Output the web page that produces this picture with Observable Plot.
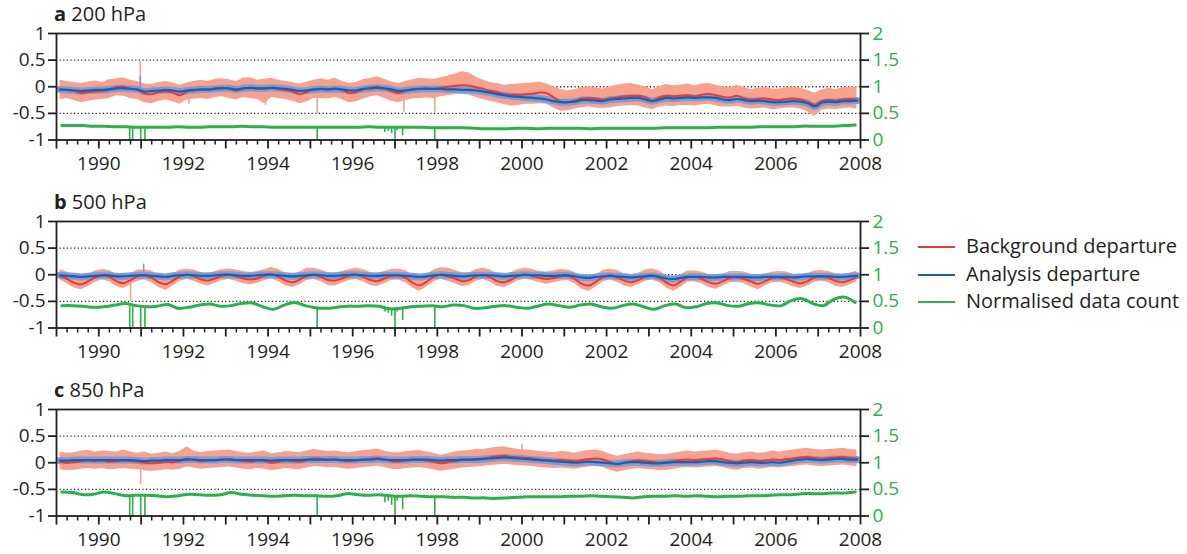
<!DOCTYPE html>
<html><head><meta charset="utf-8">
<script src="https://cdn.jsdelivr.net/npm/d3@7"></script>
<script src="https://cdn.jsdelivr.net/npm/@observablehq/plot@0.6"></script>
<style>
body{margin:0;background:#fff;font-family:"Open Sans",sans-serif;color:#231f20;}
#root{position:relative;width:1187px;height:554px;overflow:hidden;}
.panel{position:absolute;left:0;}
.title{position:absolute;left:54px;font-size:20px;line-height:20px;white-space:nowrap;}
.title b{font-weight:700;}
.leg{position:absolute;left:918px;font-size:20px;line-height:20px;white-space:nowrap;}
.leg span.sw{position:absolute;left:0;top:9px;width:37px;height:0;border-top:2px solid;}
.leg span.tx{position:absolute;left:48px;top:-1px;}
</style></head>
<body><div id="root"></div>
<script>
// ---------- labels ----------
const panelLetters = ["a", "b", "c"];
const panelLevels = ["200 hPa", "500 hPa", "850 hPa"];
const seriesNames = ["Background departure", "Analysis departure", "Normalised data count"];
const leftTicks = [-1, -0.5, 0, 0.5, 1];
const rightTickLabels = ["0", "0.5", "1", "1.5", "2"];
const yearTicks = d3.range(1989, 2009);
const startYear = 1989;

// ---------- panel a: 200 hPa (bimonthly values, 6 per year 1989-2007) ----------
const bgA = [
-0.06,-0.06,-0.08,-0.12,-0.10,-0.09, -0.08,-0.05,-0.01,0.00,-0.04,-0.06, -0.13,-0.14,-0.10,-0.09,-0.11,-0.16,
-0.09,-0.07,-0.05,-0.06,-0.03,-0.02, -0.04,-0.07,-0.03,-0.02,-0.04,-0.03, -0.02,-0.04,-0.06,-0.09,-0.14,-0.10,
-0.05,-0.04,-0.05,-0.03,-0.06,-0.12, -0.10,-0.05,-0.02,0.00,-0.03,-0.08, -0.12,-0.08,-0.05,-0.04,-0.03,-0.04,
-0.02,0.00,0.02,0.03,0.02,-0.01, -0.04,-0.08,-0.10,-0.14,-0.15,-0.15, -0.14,-0.13,-0.11,-0.12,-0.20,-0.28,
-0.29,-0.26,-0.22,-0.21,-0.22,-0.24, -0.22,-0.20,-0.18,-0.17,-0.17,-0.20, -0.26,-0.20,-0.17,-0.18,-0.17,-0.16,
-0.18,-0.15,-0.13,-0.16,-0.19,-0.20, -0.17,-0.22,-0.24,-0.23,-0.22,-0.24, -0.25,-0.23,-0.22,-0.24,-0.28,-0.34,
-0.27,-0.25,-0.26,-0.24,-0.23,-0.25];
const anA = [
-0.05,-0.06,-0.07,-0.08,-0.07,-0.06, -0.06,-0.05,-0.03,-0.03,-0.04,-0.05, -0.09,-0.08,-0.07,-0.06,-0.07,-0.09,
-0.07,-0.06,-0.05,-0.05,-0.04,-0.03, -0.03,-0.05,-0.03,-0.02,-0.03,-0.03, -0.02,-0.03,-0.04,-0.06,-0.08,-0.07,
-0.05,-0.04,-0.05,-0.04,-0.05,-0.07, -0.07,-0.04,-0.03,-0.02,-0.03,-0.05, -0.08,-0.07,-0.05,-0.04,-0.04,-0.04,
-0.04,-0.05,-0.05,-0.06,-0.06,-0.07, -0.09,-0.11,-0.14,-0.16,-0.18,-0.19, -0.20,-0.21,-0.22,-0.24,-0.27,-0.29,
-0.29,-0.28,-0.25,-0.25,-0.26,-0.27, -0.24,-0.23,-0.22,-0.21,-0.21,-0.24, -0.27,-0.24,-0.21,-0.22,-0.21,-0.20,
-0.21,-0.20,-0.20,-0.21,-0.24,-0.25, -0.23,-0.25,-0.27,-0.26,-0.27,-0.29, -0.29,-0.28,-0.27,-0.28,-0.31,-0.37,
-0.30,-0.28,-0.29,-0.27,-0.27,-0.26];
const bgHiA = [
0.12,0.10,0.08,0.06,0.09,0.11, 0.08,0.13,0.15,0.17,0.12,0.10, 0.05,0.04,0.08,0.10,0.07,0.03,
0.07,0.10,0.12,0.10,0.14,0.15, 0.13,0.10,0.16,0.17,0.12,0.14, 0.16,0.12,0.10,0.08,0.05,0.09,
0.12,0.15,0.12,0.16,0.10,0.06, 0.08,0.13,0.16,0.19,0.14,0.09, 0.06,0.10,0.13,0.16,0.15,0.14,
0.17,0.20,0.24,0.28,0.26,0.18, 0.12,0.08,0.06,0.03,0.04,0.05, 0.06,0.07,0.09,0.05,0.00,-0.05,
-0.08,-0.05,-0.02,0.00,-0.02,-0.04, 0.00,0.03,0.05,0.06,0.03,0.00, -0.06,0.01,0.04,0.02,0.03,0.05,
0.02,0.05,0.06,0.03,0.00,-0.02, 0.03,-0.02,-0.05,-0.03,-0.01,-0.04, -0.04,-0.02,0.00,-0.03,-0.07,-0.12,
-0.06,-0.03,-0.05,-0.02,-0.01,0.00];
const bgLoA = [
-0.24,-0.22,-0.26,-0.30,-0.27,-0.25, -0.24,-0.22,-0.17,-0.18,-0.22,-0.24, -0.30,-0.32,-0.27,-0.25,-0.28,-0.33,
-0.25,-0.23,-0.22,-0.24,-0.20,-0.19, -0.22,-0.25,-0.20,-0.22,-0.24,-0.32, -0.20,-0.22,-0.24,-0.27,-0.32,-0.28,
-0.22,-0.22,-0.23,-0.20,-0.24,-0.30, -0.28,-0.23,-0.19,-0.17,-0.22,-0.27, -0.30,-0.26,-0.23,-0.22,-0.21,-0.22,
-0.19,-0.17,-0.15,-0.14,-0.16,-0.20, -0.24,-0.27,-0.30,-0.34,-0.36,-0.35, -0.33,-0.33,-0.32,-0.33,-0.40,-0.46,
-0.45,-0.42,-0.39,-0.38,-0.40,-0.41, -0.40,-0.37,-0.36,-0.35,-0.36,-0.40, -0.43,-0.38,-0.36,-0.37,-0.35,-0.35,
-0.36,-0.34,-0.33,-0.36,-0.38,-0.38, -0.37,-0.40,-0.42,-0.41,-0.40,-0.43, -0.42,-0.40,-0.40,-0.42,-0.47,-0.56,
-0.44,-0.42,-0.43,-0.41,-0.40,-0.42];
// normalised data count, quarterly (4 per year)
const cntA = [
0.27,0.27,0.27,0.26, 0.26,0.25,0.25,0.24, 0.24,0.24,0.24,0.25, 0.24,0.24,0.25,0.25, 0.25,0.26,0.25,0.25,
0.24,0.24,0.24,0.24, 0.24,0.24,0.24,0.24, 0.24,0.25,0.24,0.24, 0.24,0.24,0.24,0.23, 0.23,0.23,0.23,0.22,
0.21,0.21,0.21,0.22, 0.22,0.21,0.22,0.22, 0.22,0.22,0.21,0.22, 0.22,0.22,0.22,0.22, 0.22,0.23,0.23,0.23,
0.23,0.23,0.24,0.24, 0.24,0.24,0.25,0.25, 0.25,0.25,0.26,0.26, 0.26,0.26,0.27,0.28];
const spikeTA = [1990.98, 1992.13, 1993.94, 1995.16, 1997.21, 1997.94];
const spikeVA = [0.47, -0.33, -0.35, -0.51, -0.48, -0.48];
const anSpikeTA = [1990.98];
const anSpikeVA = [0.2];

// ---------- panel b: 500 hPa ----------
const bgB = [
-0.02,-0.08,-0.15,-0.18,-0.12,-0.05, -0.01,-0.04,-0.12,-0.16,-0.10,-0.03, -0.01,-0.06,-0.14,-0.18,-0.11,-0.03,
0.00,-0.03,-0.09,-0.11,-0.07,-0.02, 0.00,-0.03,-0.07,-0.09,-0.07,-0.02, 0.01,-0.04,-0.11,-0.14,-0.09,-0.02,
0.00,-0.04,-0.10,-0.11,-0.07,-0.02, 0.00,-0.04,-0.10,-0.12,-0.07,-0.02, -0.01,-0.06,-0.15,-0.20,-0.13,-0.04,
0.00,-0.03,-0.07,-0.12,-0.10,-0.03, 0.00,-0.05,-0.12,-0.14,-0.09,-0.02, 0.00,-0.02,-0.06,-0.08,-0.06,-0.03,
-0.02,-0.08,-0.17,-0.20,-0.13,-0.04, -0.01,-0.05,-0.11,-0.14,-0.10,-0.03, -0.01,-0.06,-0.15,-0.20,-0.13,-0.05,
-0.04,-0.08,-0.14,-0.17,-0.12,-0.06, -0.05,-0.08,-0.13,-0.17,-0.12,-0.06, -0.05,-0.08,-0.13,-0.16,-0.12,-0.05,
-0.03,-0.06,-0.12,-0.14,-0.10,-0.04];
const anB = [
-0.01,-0.02,-0.03,-0.04,-0.03,-0.02, -0.01,-0.01,-0.03,-0.03,-0.02,-0.01, -0.01,-0.02,-0.03,-0.04,-0.02,-0.01,
0.00,-0.01,-0.02,-0.02,-0.01,0.00, 0.00,-0.01,-0.02,-0.02,-0.01,0.00, 0.00,-0.01,-0.02,-0.03,-0.02,-0.01,
0.00,-0.01,-0.02,-0.02,-0.01,0.00, 0.00,-0.01,-0.02,-0.02,-0.01,-0.01, -0.01,-0.02,-0.03,-0.04,-0.03,-0.01,
0.00,-0.01,-0.02,-0.03,-0.02,-0.01, -0.01,-0.01,-0.02,-0.03,-0.02,-0.01, 0.00,-0.01,-0.01,-0.02,-0.02,-0.01,
-0.01,-0.03,-0.05,-0.06,-0.04,-0.03, -0.02,-0.03,-0.04,-0.05,-0.04,-0.03, -0.02,-0.04,-0.07,-0.08,-0.06,-0.04,
-0.04,-0.04,-0.05,-0.05,-0.04,-0.04, -0.04,-0.04,-0.05,-0.05,-0.04,-0.04, -0.04,-0.04,-0.05,-0.04,-0.03,-0.03,
-0.03,-0.03,-0.04,-0.04,-0.03,-0.02];
const bgHiB = [
0.10,0.05,-0.03,-0.06,0.00,0.07, 0.10,0.08,0.00,-0.04,0.02,0.09, 0.09,0.07,-0.01,-0.05,0.01,0.09,
0.11,0.09,0.04,0.02,0.06,0.10, 0.11,0.09,0.06,0.04,0.06,0.10, 0.14,0.10,0.03,0.00,0.05,0.12,
0.12,0.09,0.04,0.03,0.06,0.10, 0.12,0.10,0.04,0.02,0.06,0.10, 0.11,0.08,-0.01,-0.06,0.00,0.09,
0.13,0.12,0.08,0.04,0.03,0.10, 0.12,0.09,0.02,0.00,0.04,0.10, 0.12,0.10,0.06,0.05,0.07,0.10,
0.09,0.04,-0.04,-0.07,0.00,0.08, 0.11,0.08,0.02,0.00,0.03,0.09, 0.11,0.07,-0.02,-0.07,0.00,0.07,
0.07,0.05,0.00,-0.03,0.01,0.06, 0.06,0.05,0.01,-0.04,0.01,0.05, 0.06,0.05,0.01,-0.03,0.02,0.07,
0.08,0.06,0.02,0.00,0.03,0.07];
const bgLoB = [
-0.10,-0.17,-0.25,-0.28,-0.22,-0.14, -0.10,-0.13,-0.22,-0.26,-0.19,-0.12, -0.10,-0.15,-0.24,-0.29,-0.21,-0.12,
-0.09,-0.12,-0.18,-0.21,-0.16,-0.11, -0.09,-0.12,-0.17,-0.19,-0.16,-0.11, -0.08,-0.13,-0.21,-0.24,-0.19,-0.11,
-0.09,-0.13,-0.20,-0.21,-0.16,-0.11, -0.09,-0.13,-0.20,-0.22,-0.17,-0.11, -0.10,-0.15,-0.25,-0.31,-0.23,-0.13,
-0.09,-0.12,-0.17,-0.22,-0.20,-0.12, -0.09,-0.14,-0.22,-0.24,-0.18,-0.11, -0.09,-0.11,-0.15,-0.18,-0.15,-0.12,
-0.11,-0.17,-0.27,-0.31,-0.23,-0.13, -0.10,-0.14,-0.21,-0.24,-0.19,-0.12, -0.10,-0.15,-0.25,-0.31,-0.23,-0.14,
-0.13,-0.17,-0.24,-0.27,-0.21,-0.15, -0.14,-0.17,-0.23,-0.28,-0.21,-0.15, -0.14,-0.17,-0.23,-0.26,-0.21,-0.14,
-0.12,-0.15,-0.22,-0.24,-0.19,-0.13];
const cntB = [
0.42,0.42,0.41,0.39, 0.40,0.43,0.46,0.42, 0.40,0.41,0.44,0.37, 0.39,0.43,0.45,0.41, 0.42,0.46,0.47,0.40,
0.35,0.43,0.48,0.42, 0.38,0.37,0.39,0.41, 0.41,0.42,0.41,0.36, 0.37,0.40,0.41,0.42, 0.40,0.43,0.42,0.37,
0.38,0.41,0.42,0.39, 0.37,0.41,0.45,0.42, 0.39,0.43,0.45,0.40, 0.37,0.42,0.45,0.40, 0.35,0.42,0.45,0.38,
0.40,0.46,0.47,0.42, 0.41,0.46,0.47,0.43, 0.42,0.52,0.55,0.46, 0.42,0.54,0.58,0.48];
const spikeTB = [1990.75];
const spikeVB = [-0.5];
const anSpikeTB = [1991.06];
const anSpikeVB = [0.2];

// ---------- panel c: 850 hPa ----------
const bgC = [
0.02,0.00,0.01,0.03,0.04,0.03, 0.04,0.02,0.03,0.04,0.03,0.02, 0.00,-0.01,0.00,0.02,0.01,0.03,
0.08,0.05,0.03,0.04,0.05,0.06, 0.07,0.05,0.03,0.02,0.04,0.03, 0.00,0.02,0.04,0.03,0.02,0.05,
0.08,0.07,0.05,0.06,0.04,0.03, 0.04,0.06,0.07,0.09,0.06,0.03, 0.02,0.04,0.05,0.06,0.04,0.02,
-0.01,0.01,0.03,0.05,0.06,0.07, 0.08,0.10,0.12,0.13,0.11,0.10, 0.09,0.08,0.06,0.05,0.04,0.05,
0.04,0.03,0.05,0.07,0.08,0.06, 0.01,-0.03,0.00,0.03,0.04,0.03, 0.02,0.00,0.01,0.03,0.05,0.06,
0.05,0.06,0.07,0.08,0.06,0.03, 0.01,0.04,0.05,0.03,0.04,0.06, 0.05,0.07,0.08,0.10,0.11,0.09,
0.08,0.09,0.10,0.11,0.09,0.08];
const anC = [
0.04,0.04,0.05,0.05,0.05,0.05, 0.05,0.05,0.05,0.05,0.05,0.04, 0.03,0.04,0.04,0.05,0.05,0.05,
0.06,0.06,0.05,0.05,0.05,0.06, 0.06,0.05,0.05,0.05,0.05,0.05, 0.04,0.05,0.05,0.05,0.05,0.06,
0.06,0.06,0.06,0.06,0.05,0.05, 0.05,0.06,0.06,0.07,0.06,0.05, 0.05,0.05,0.06,0.06,0.06,0.05,
0.04,0.05,0.05,0.06,0.06,0.06, 0.07,0.08,0.09,0.10,0.09,0.08, 0.07,0.06,0.05,0.04,0.03,0.02,
0.01,0.00,0.01,0.02,0.01,0.00, -0.01,-0.02,0.00,0.01,0.01,0.00, -0.01,-0.01,0.00,0.01,0.01,0.01,
0.01,0.02,0.03,0.03,0.01,0.00, -0.01,0.00,0.01,0.00,0.00,0.01, 0.00,0.02,0.04,0.06,0.07,0.06,
0.05,0.06,0.07,0.07,0.06,0.06];
const bgHiC = [
0.20,0.18,0.19,0.22,0.23,0.20, 0.22,0.21,0.20,0.24,0.20,0.18, 0.20,0.16,0.18,0.20,0.17,0.21,
0.30,0.22,0.19,0.21,0.22,0.23, 0.24,0.21,0.19,0.18,0.20,0.22, 0.17,0.19,0.21,0.20,0.19,0.22,
0.25,0.23,0.21,0.22,0.20,0.19, 0.21,0.23,0.24,0.26,0.22,0.19, 0.19,0.21,0.22,0.23,0.20,0.18,
0.14,0.17,0.20,0.22,0.23,0.25, 0.25,0.27,0.29,0.30,0.27,0.25, 0.24,0.23,0.21,0.20,0.19,0.21,
0.20,0.18,0.21,0.23,0.24,0.21, 0.16,0.12,0.15,0.18,0.20,0.18, 0.17,0.15,0.16,0.18,0.20,0.22,
0.20,0.21,0.22,0.24,0.21,0.18, 0.16,0.19,0.20,0.18,0.19,0.22, 0.20,0.22,0.24,0.26,0.27,0.25,
0.24,0.25,0.26,0.27,0.25,0.24];
const bgLoC = [
-0.13,-0.15,-0.14,-0.12,-0.11,-0.12, -0.11,-0.13,-0.12,-0.11,-0.12,-0.13, -0.15,-0.16,-0.15,-0.13,-0.14,-0.12,
-0.08,-0.10,-0.12,-0.11,-0.10,-0.09, -0.08,-0.10,-0.12,-0.13,-0.11,-0.12, -0.15,-0.13,-0.11,-0.12,-0.13,-0.10,
-0.07,-0.08,-0.10,-0.09,-0.11,-0.12, -0.11,-0.09,-0.08,-0.06,-0.09,-0.12, -0.13,-0.11,-0.10,-0.09,-0.11,-0.13,
-0.16,-0.14,-0.12,-0.10,-0.09,-0.08, -0.07,-0.05,-0.04,-0.03,-0.04,-0.05, -0.06,-0.07,-0.09,-0.10,-0.11,-0.10,
-0.11,-0.12,-0.10,-0.08,-0.07,-0.09, -0.14,-0.18,-0.15,-0.12,-0.11,-0.12, -0.13,-0.15,-0.14,-0.12,-0.10,-0.09,
-0.10,-0.09,-0.08,-0.07,-0.09,-0.12, -0.14,-0.11,-0.10,-0.12,-0.11,-0.09, -0.10,-0.08,-0.07,-0.05,-0.04,-0.06,
-0.07,-0.06,-0.05,-0.04,-0.06,-0.07];
const cntC = [
0.45,0.44,0.40,0.41, 0.45,0.42,0.38,0.39, 0.39,0.38,0.36,0.38, 0.41,0.40,0.39,0.40, 0.44,0.41,0.39,0.38,
0.37,0.38,0.39,0.38, 0.38,0.37,0.38,0.42, 0.40,0.39,0.40,0.38, 0.37,0.38,0.37,0.36, 0.36,0.35,0.35,0.34,
0.34,0.33,0.34,0.35, 0.36,0.36,0.36,0.36, 0.37,0.37,0.38,0.37, 0.36,0.35,0.34,0.36, 0.37,0.37,0.38,0.37,
0.38,0.37,0.36,0.37, 0.37,0.38,0.38,0.39, 0.40,0.40,0.42,0.42, 0.42,0.43,0.43,0.45];
const spikeTC = [1990.99, 2000.0];
const spikeVC = [-0.42, 0.34];
const anSpikeTC = [];
const anSpikeVC = [];

// ---------- data-count outages (shared times), minimum count per panel ----------
const dropT  = [1990.73, 1990.80, 1990.99, 1991.09, 1995.16, 1996.76, 1996.84, 1996.92, 1997.00, 1997.05, 1997.18, 1997.94];
const dropVA = [0, 0, 0, 0, 0, 0.14, 0.16, 0.12, 0, 0.18, 0.08, 0];
const dropVB = [0, 0, 0, 0, 0, 0.30, 0.28, 0.22, 0, 0.30, 0.14, 0];
const dropVC = [0, 0, 0, 0, 0, 0.25, 0.28, 0.20, 0, 0.28, 0.12, 0];

// ---------- styles ----------
const RED = "#ec3a32", SALMON = "#f7a28e", BLUE = "#1b5fad", LIGHTBLUE = "#7d9bd6", GREEN = "#2bb04a", INK = "#231f20";

const panels = [
  {bg: bgA, an: anA, hi: bgHiA, lo: bgLoA, cnt: cntA, sT: spikeTA, sV: spikeVA, aT: anSpikeTA, aV: anSpikeVA, dV: dropVA},
  {bg: bgB, an: anB, hi: bgHiB, lo: bgLoB, cnt: cntB, sT: spikeTB, sV: spikeVB, aT: anSpikeTB, aV: anSpikeVB, dV: dropVB},
  {bg: bgC, an: anC, hi: bgHiC, lo: bgLoC, cnt: cntC, sT: spikeTC, sV: spikeVC, aT: anSpikeTC, aV: anSpikeVC, dV: dropVC}
];
const panelTops = [0, 187.5, 376];
const root = document.getElementById("root");
const hyphen = d => String(d);
const minorTicks = d3.range(1989, 2008.01, 0.25).filter(d => d % 1 !== 0);

panels.forEach((p, k) => {
  const bi = p.bg.map((v, i) => ({t: startYear + (i + 0.5) / 6, bg: v, an: p.an[i], hi: p.hi[i], lo: p.lo[i]}));
  const q = p.cnt.map((v, i) => ({t: startYear + (i + 0.5) / 4, c: v}));
  const biAt = t => bi[Math.max(0, Math.min(bi.length - 1, Math.floor((t - startYear) * 6)))];
  const qAt = t => q[Math.max(0, Math.min(q.length - 1, Math.floor((t - startYear) * 4)))];
  const spikes = p.sT.map((t, i) => ({t, v: p.sV[i], base: biAt(t).bg}));
  const aspikes = p.aT.map((t, i) => ({t, v: p.aV[i], base: biAt(t).an}));
  const drops = dropT.map((t, i) => ({t, v: p.dV[i], base: qAt(t).c}));

  const chart = Plot.plot({
    width: 905, height: 188,
    marginLeft: 56, marginRight: 45, marginTop: 33, marginBottom: 48.5,
    x: {domain: [1989, 2008], label: null},
    y: {domain: [-1, 1], label: null},
    style: {fontFamily: "'Open Sans', sans-serif", fontSize: "19px", color: INK, background: "#fff"},
    marks: [
      Plot.ruleY([-0.5, 0, 0.5], {stroke: INK, strokeWidth: 1.3, strokeDasharray: "1.2,2.4"}),
      Plot.areaY(bi, {x: "t", y1: "lo", y2: "hi", fill: SALMON}),
      Plot.ruleX(spikes, {x: "t", y1: "base", y2: "v", stroke: SALMON, strokeWidth: 1.6}),
      Plot.line(bi, {x: "t", y: "an", stroke: LIGHTBLUE, strokeWidth: 7, curve: "catmull-rom"}),
      Plot.ruleX(aspikes, {x: "t", y1: "base", y2: "v", stroke: LIGHTBLUE, strokeWidth: 1.6}),
      Plot.line(bi, {x: "t", y: "bg", stroke: RED, strokeWidth: 2, curve: "catmull-rom"}),
      Plot.line(bi, {x: "t", y: "an", stroke: BLUE, strokeWidth: 2.2, curve: "catmull-rom"}),
      Plot.ruleX(drops, {x: "t", y1: d => d.base - 1, y2: d => d.v - 1, stroke: GREEN, strokeWidth: 1.6}),
      Plot.line(q, {x: "t", y: d => d.c - 1, stroke: GREEN, strokeWidth: 3, curve: "catmull-rom"}),
      Plot.frame({stroke: INK, strokeWidth: 1.8}),
      Plot.axisY({anchor: "left", label: null, ticks: leftTicks, tickSize: 8, tickPadding: 3, tickFormat: hyphen, stroke: INK, fill: INK, strokeWidth: 1.8}),
      Plot.axisY({anchor: "right", label: null, ticks: leftTicks, tickSize: 8, tickPadding: 4, tickFormat: d => rightTickLabels[leftTicks.indexOf(d)], stroke: INK, fill: GREEN, strokeWidth: 1.8}),
      Plot.axisX({anchor: "bottom", label: null, ticks: yearTicks, tickSize: 9, tickPadding: 7, tickFormat: d => (d % 2 === 0 ? String(d) : ""), stroke: INK, fill: INK, strokeWidth: 1.8}),
      Plot.axisX({anchor: "bottom", label: null, ticks: minorTicks, tickSize: 5, tickFormat: () => "", stroke: INK, strokeWidth: 1.5})
    ]
  });
  const wrap = document.createElement("div");
  wrap.className = "panel";
  wrap.style.top = panelTops[k] + "px";
  wrap.appendChild(chart);
  root.appendChild(wrap);

  const title = document.createElement("div");
  title.className = "title";
  title.style.top = (panelTops[k] + 4) + "px";
  title.innerHTML = "<b>" + panelLetters[k] + "</b> " + panelLevels[k];
  root.appendChild(title);
});

// legend
const legendColors = [RED, BLUE, GREEN];
const legendTops = [237, 265, 292];
seriesNames.forEach((name, i) => {
  const row = document.createElement("div");
  row.className = "leg";
  row.style.top = legendTops[i] + "px";
  row.innerHTML = `<span class="sw" style="border-color:${legendColors[i]}"></span><span class="tx">${name}</span>`;
  root.appendChild(row);
});
</script></body></html>
